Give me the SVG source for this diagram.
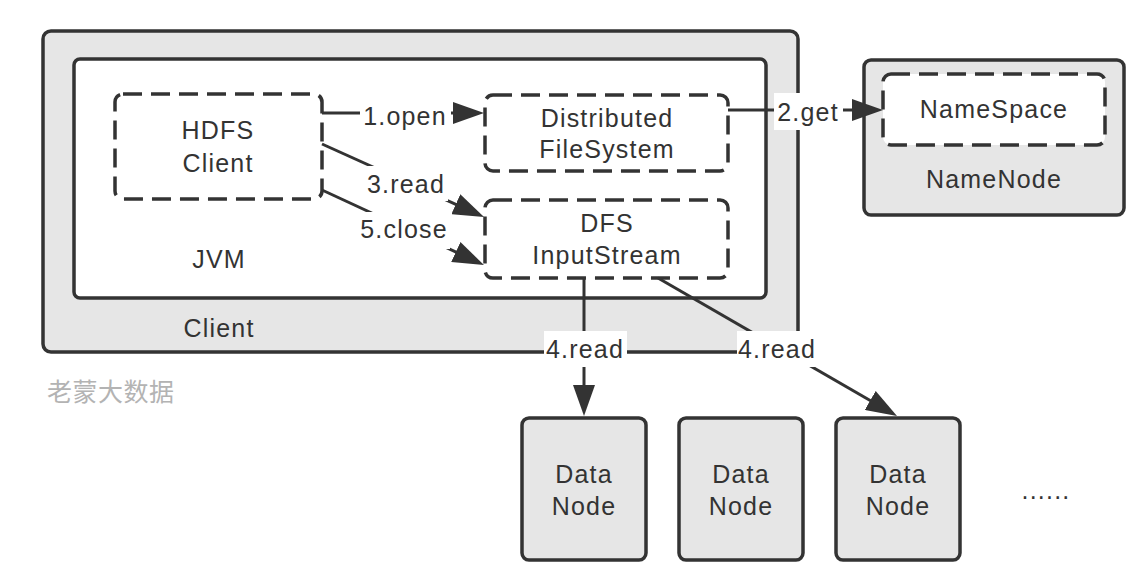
<svg xmlns="http://www.w3.org/2000/svg" width="1138" height="584" viewBox="0 0 1138 584">
  <style>
    .solid { stroke: #333333; stroke-width: 3.5; }
    .gray { fill: #e6e6e6; }
    .white { fill: #ffffff; }
    .dash { fill: #ffffff; stroke: #333333; stroke-width: 3.5; stroke-dasharray: 19 9; }
    .t { font-family: "Liberation Sans", Arial, sans-serif; font-size: 25px; fill: #333333; text-anchor: middle; letter-spacing: 1.2px; }
    .lbl { fill: #ffffff; }
    .conn { stroke: #333333; stroke-width: 3; fill: none; marker-end: url(#arrow); }
    .wm { font-family: "Noto Sans CJK SC", "Liberation Sans", sans-serif; font-size: 25px; fill: #b3b3b3; letter-spacing: 0.5px; }
  </style>
  <defs>
    <marker id="arrow" markerUnits="userSpaceOnUse" markerWidth="31" markerHeight="22" viewBox="0 0 31 22" refX="11" refY="11" orient="auto">
      <path d="M0,0 L31,11 L0,22 Z" fill="#333333"/>
    </marker>
  </defs>

  <rect width="1138" height="584" fill="#ffffff"/>

  <g id="client">
    <rect class="solid gray" x="43" y="31" width="755" height="321" rx="8"/>
    <text class="t" x="219" y="337">Client</text>
  </g>
  <g id="jvm">
    <rect class="solid white" x="74" y="59" width="692" height="239" rx="6"/>
    <text class="t" x="219" y="268">JVM</text>
  </g>
  <g id="hdfs-client">
    <rect class="dash" x="115" y="94" width="207" height="105" rx="8"/>
    <text class="t" x="218" y="139">HDFS</text>
    <text class="t" x="218" y="172">Client</text>
  </g>
  <g id="distributed-filesystem">
    <rect class="dash" x="485" y="95" width="243" height="76" rx="8"/>
    <text class="t" x="607" y="127">Distributed</text>
    <text class="t" x="607" y="158">FileSystem</text>
  </g>
  <g id="dfs-inputstream">
    <rect class="dash" x="485" y="200" width="243" height="78" rx="8"/>
    <text class="t" x="607" y="232">DFS</text>
    <text class="t" x="607" y="264">InputStream</text>
  </g>
  <g id="namenode">
    <rect class="solid gray" x="864" y="60" width="260" height="155" rx="7"/>
    <text class="t" x="994" y="188">NameNode</text>
  </g>
  <g id="namespace">
    <rect class="dash" x="883" y="74" width="222" height="71" rx="8"/>
    <text class="t" x="994" y="118">NameSpace</text>
  </g>
  <g id="datanode-1">
    <rect class="solid gray" x="522" y="418" width="124" height="142" rx="7"/>
    <text class="t" x="584" y="483">Data</text>
    <text class="t" x="584" y="515">Node</text>
  </g>
  <g id="datanode-2">
    <rect class="solid gray" x="679" y="418" width="124" height="142" rx="7"/>
    <text class="t" x="741" y="483">Data</text>
    <text class="t" x="741" y="515">Node</text>
  </g>
  <g id="datanode-3">
    <rect class="solid gray" x="836" y="418" width="124" height="142" rx="7"/>
    <text class="t" x="898" y="483">Data</text>
    <text class="t" x="898" y="515">Node</text>
  </g>
  <g id="more">
    <text class="t" x="1046" y="499">......</text>
  </g>

  <g id="connectors">
    <path class="conn" d="M322,113 L464,113"/>
    <path class="conn" d="M728,110 L863,110"/>
    <path class="conn" d="M322,144 L465.8,208.8"/>
    <path class="conn" d="M322,190 L465.8,256.6"/>
    <path class="conn" d="M584,278 L584,396"/>
    <path class="conn" d="M658,278 L879.7,406"/>

    <rect class="lbl" x="360" y="97" width="91" height="34"/>
    <text class="t" x="405" y="125">1.open</text>
    <rect class="lbl" x="774" y="93" width="69" height="37"/>
    <text class="t" x="808" y="121">2.get</text>
    <rect class="lbl" x="364" y="166" width="84" height="35"/>
    <text class="t" x="406" y="193">3.read</text>
    <rect class="lbl" x="359" y="212" width="91" height="37"/>
    <text class="t" x="404" y="238">5.close</text>
    <rect class="lbl" x="544" y="331" width="83" height="36"/>
    <text class="t" x="585" y="358">4.read</text>
    <rect class="lbl" x="737" y="331" width="81" height="36"/>
    <text class="t" x="777" y="358">4.read</text>
  </g>

  <text class="wm" x="47" y="401">老蒙大数据</text>
</svg>
